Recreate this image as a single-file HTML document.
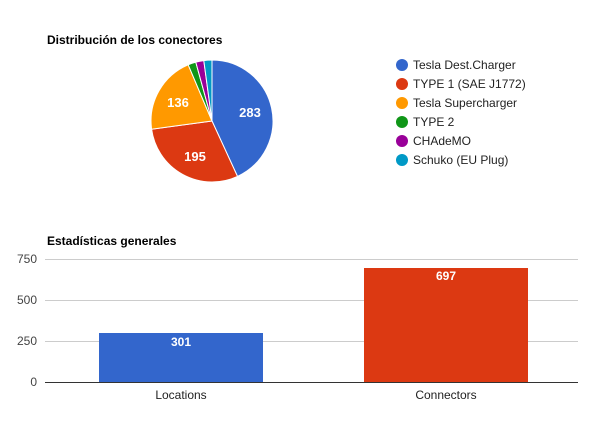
<!DOCTYPE html>
<html><head><meta charset="utf-8"><style>
body{margin:0;background:#fff;}
svg text{font-family:"Liberation Sans",Arial,sans-serif;}
</style></head><body>
<svg width="614" height="417" xmlns="http://www.w3.org/2000/svg">
<rect width="614" height="417" fill="#fff"/>
<text x="47" y="44" font-size="12" font-weight="bold" fill="#000">Distribución de los conectores</text>
<g stroke="#fff" stroke-width="1">
<path d="M212,121 L212,60 A61,61 0 0 1 237.5,176.4 Z" fill="#3366cc"/>
<path d="M212,121 L237.5,176.4 A61,61 0 0 1 151.6,129.2 Z" fill="#dc3912"/>
<path d="M212,121 L151.6,129.2 A61,61 0 0 1 188.2,64.8 Z" fill="#ff9900"/>
<path d="M212,121 L188.2,64.8 A61,61 0 0 1 195.8,62.2 Z" fill="#109618"/>
<path d="M212,121 L195.8,62.2 A61,61 0 0 1 203.8,60.6 Z" fill="#990099"/>
<path d="M212,121 L203.8,60.6 A61,61 0 0 1 212,60 Z" fill="#0099c6"/>
</g>
<g font-size="13" font-weight="bold" fill="#fff" text-anchor="middle">
<text x="250" y="117">283</text>
<text x="195" y="161">195</text>
<text x="178" y="107">136</text>
</g>
<g font-size="12" fill="#222">
<circle cx="402" cy="65" r="6" fill="#3366cc"/><text x="413" y="69">Tesla Dest.Charger</text>
<circle cx="402" cy="84" r="6" fill="#dc3912"/><text x="413" y="88">TYPE 1 (SAE J1772)</text>
<circle cx="402" cy="103" r="6" fill="#ff9900"/><text x="413" y="107">Tesla Supercharger</text>
<circle cx="402" cy="122" r="6" fill="#109618"/><text x="413" y="126">TYPE 2</text>
<circle cx="402" cy="141" r="6" fill="#990099"/><text x="413" y="145">CHAdeMO</text>
<circle cx="402" cy="160" r="6" fill="#0099c6"/><text x="413" y="164">Schuko (EU Plug)</text>
</g>
<text x="47" y="245" font-size="12" font-weight="bold" fill="#000">Estadísticas generales</text>
<g stroke="#ccc" stroke-width="1">
<line x1="45" y1="259.5" x2="578" y2="259.5"/>
<line x1="45" y1="300.5" x2="578" y2="300.5"/>
<line x1="45" y1="341.5" x2="578" y2="341.5"/>
</g>
<g font-size="12" fill="#444" text-anchor="end">
<text x="37" y="263">750</text>
<text x="37" y="304">500</text>
<text x="37" y="345">250</text>
<text x="37" y="386">0</text>
</g>
<rect x="99" y="333" width="164" height="49" fill="#3366cc"/>
<rect x="364" y="268" width="164" height="114" fill="#dc3912"/>
<line x1="45" y1="382.5" x2="578" y2="382.5" stroke="#333" stroke-width="1"/>
<g font-size="12" font-weight="bold" fill="#fff" text-anchor="middle">
<text x="181" y="346">301</text>
<text x="446" y="280">697</text>
</g>
<g font-size="12" fill="#222" text-anchor="middle">
<text x="181" y="399">Locations</text>
<text x="446" y="399">Connectors</text>
</g>
</svg>
</body></html>
